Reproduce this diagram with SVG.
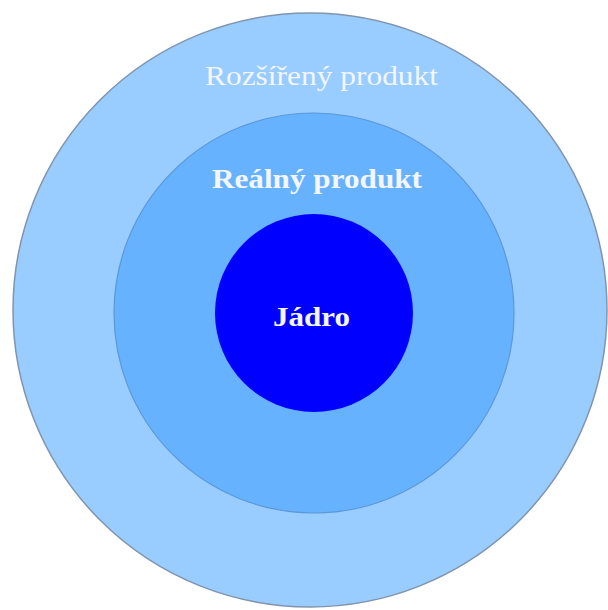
<svg xmlns="http://www.w3.org/2000/svg" width="608" height="610" viewBox="0 0 608 610">
<style>
.lbl{font-family:"Liberation Serif","Times New Roman",serif;fill:#F4F6FF;text-anchor:middle}
</style>
<rect width="608" height="610" fill="#FFFFFF"/>
<g id="rozsireny">
<circle cx="310" cy="310" r="297" fill="#99CCFF" stroke="#8095AD" stroke-width="1.5"/>
<text class="lbl" x="321.5" y="85" font-size="27" textLength="233" lengthAdjust="spacingAndGlyphs">Rozšířený produkt</text>
</g>
<g id="realny">
<circle cx="314" cy="313" r="200" fill="#66B2FF" stroke="#5C98D8" stroke-width="1.2"/>
<text class="lbl" x="317" y="188" font-size="28" font-weight="bold" textLength="210" lengthAdjust="spacingAndGlyphs">Reálný produkt</text>
</g>
<g id="jadro">
<circle cx="314" cy="313" r="99" fill="#0000FF"/>
<text class="lbl" x="311.5" y="326" font-size="28" font-weight="bold" textLength="77" lengthAdjust="spacingAndGlyphs">Jádro</text>
</g>
<g id="connectors"/>
</svg>
